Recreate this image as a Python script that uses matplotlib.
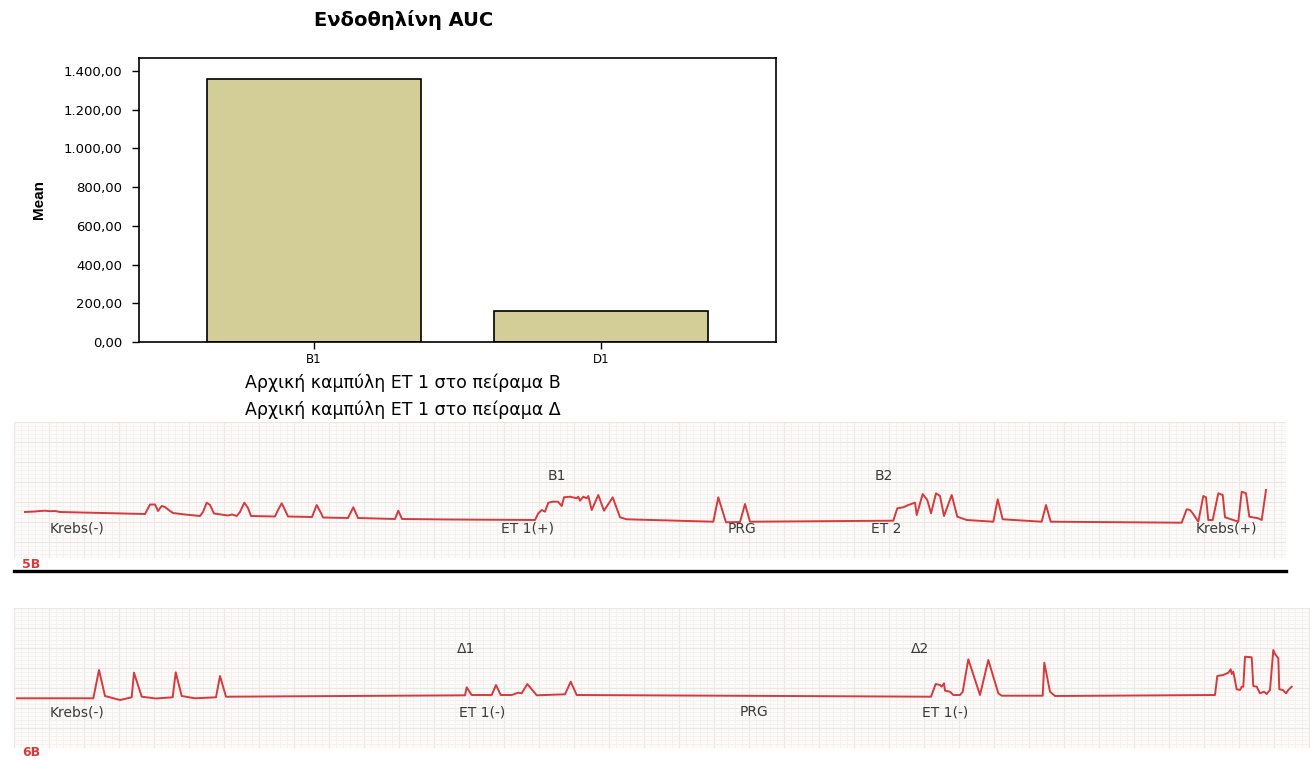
import numpy as np
import matplotlib
matplotlib.use("Agg")
import matplotlib.pyplot as plt
from matplotlib.ticker import FuncFormatter

W, H = 1314, 760

# bar chart data
groups = ['B1', 'D1']
auc_mean = [1358, 162]
yticks = [0, 200, 400, 600, 800, 1000, 1200, 1400]

# recorder trace 5B (x along strip, y in strip pixels, downward)
trace5_x = [25, 35, 40, 45, 50, 55, 60, 145,
            150, 155, 158, 161.7, 165, 170, 173, 185, 200,
            203, 206.7, 210, 214, 228, 232, 236.7, 240, 244.3, 248, 251, 275,
            278, 281.7, 285, 288, 312, 316.7, 321, 323, 348, 353.3, 358, 395, 398.3, 402, 450, 535,
            538.3, 541.7, 545, 548.3, 553, 558, 561.7, 564, 570, 576.7, 578.3, 580, 583.3, 586.7,
            588.3, 591.7, 598.3, 604, 612.7, 620, 626.7, 713.3,
            718.3, 726, 740, 745, 750, 893.3,
            897.3, 903.3, 908.3, 915, 916.7, 922.7, 927.3, 931, 936, 940, 944, 951.7, 957.3,
            966.7, 993.3, 997.7, 1002.7, 1041.7, 1046, 1050.7, 1181.7,
            1186.7, 1190, 1192.7, 1198.3, 1203.3, 1206, 1208.3, 1212.7, 1218.3, 1222.7, 1225,
            1233.3, 1238.3, 1241.7, 1246, 1249.3, 1258.3, 1261.7, 1266]
trace5_y = [512, 511.5, 511, 510.7, 511.2, 511, 512, 514,
            504.5, 504.5, 511, 506, 507, 511, 513, 514.5, 516,
            512, 502.7, 505, 513.5, 515.5, 514.5, 516, 512, 502.7, 508, 516, 516.5,
            510, 503.3, 510, 516.5, 517, 505, 513, 517.5, 518, 507.3, 518, 519, 510.7, 519, 519.5, 520,
            513.3, 510, 511.7, 502.7, 501.7, 501.7, 506, 497.3, 496.7, 498.3, 496.7, 500.7, 496.7, 498.3,
            496, 510, 495, 510.7, 497.3, 517.3, 519.3, 521.7,
            497.3, 522.3, 522, 504, 521.7, 520.7,
            508.3, 507.3, 505, 502.7, 515, 494, 500, 513.3, 493.3, 496, 516, 495, 516.7,
            520, 521.7, 499.3, 519.3, 521.7, 505, 521.7, 522.7,
            509.3, 510, 513.3, 521.7, 496, 497.3, 520, 520, 493.3, 495, 517.3,
            520, 521.7, 491.7, 493.3, 516.7, 518.3, 520, 490]

# recorder trace 6B
trace6_x = [17, 93.3, 99, 105, 120, 131.7, 134, 141.7, 156, 172.7, 175.7, 181.7, 195, 216, 220, 226,
            465, 466.7, 471.7, 491.7, 496, 500.7, 511.7, 518.3, 521.7, 527.3, 536.7, 565, 570.7, 576.7,
            931, 935.7, 940, 941.7, 944, 945, 950, 953.3, 960, 962.7, 968.3, 980, 988.3, 998.3,
            1001.7, 1042.7, 1044.3, 1050, 1055, 1215,
            1217.3, 1223.3, 1228.3, 1230.7, 1231.7, 1233.3, 1236.7, 1240, 1241.7, 1243.3, 1245,
            1251.7, 1253.3, 1256.7, 1260, 1264, 1266.7, 1270, 1273.3, 1275, 1278.3, 1279.3,
            1282.7, 1286, 1288.3, 1291.7]
trace6_y = [698.3, 698.3, 670, 696, 700, 697.3, 672.7, 696.7, 698.5, 697.3, 672.3, 696, 698.3, 697.3, 676, 696.7,
            695.3, 687.3, 695, 695, 685, 695, 695, 692.7, 693.3, 684, 695.3, 694.3, 681.7, 695,
            696.7, 684, 685, 686.7, 683.3, 690.7, 691.7, 695, 695, 691.7, 659.3, 695, 660, 693.3,
            695.7, 695.7, 662.7, 691.7, 696, 695,
            676, 675, 672.7, 669.3, 674, 671.7, 689.3, 690, 686.7, 686.7, 656.7,
            657.3, 686, 686.7, 693.3, 691.7, 694, 690, 650, 654, 658.3, 689.3,
            690, 693.3, 690, 686.7]

# event labels (text, x, y)
labels5 = [('B1', 557, 476), ('B2', 884, 476), ('Krebs(-)', 77, 529), ('ET 1(+)', 528, 529),
           ('PRG', 742, 529), ('ET 2', 886, 529), ('Krebs(+)', 1226, 529)]
labels6 = [('Δ1', 466, 649), ('Δ2', 920, 649), ('Krebs(-)', 77, 712), ('ET 1(-)', 482, 712),
           ('PRG', 754, 712), ('ET 1(-)', 945, 712)]


def px_rect(x0, y0, x1, y1):
    return [x0 / W, 1 - y1 / H, (x1 - x0) / W, (y1 - y0) / H]


fig = plt.figure(figsize=(W / 100, H / 100), dpi=100)
fig.patch.set_facecolor('white')

# ---- bar chart
ax = fig.add_axes(px_rect(139, 58, 776, 342))
ax.bar(range(len(groups)), auc_mean, width=0.746, color='#d3ce97',
       edgecolor='black', linewidth=1.2, zorder=2)
ax.set_xlim(-0.61, 1.61)
ax.set_ylim(0, 1467)
ax.set_yticks(yticks)
ax.yaxis.set_major_formatter(FuncFormatter(
    lambda v, p: f'{v:,.2f}'.replace(',', 'X').replace('.', ',').replace('X', '.')))
ax.set_xticks(range(len(groups)))
ax.set_xticklabels(groups, fontsize=8.5)
ax.tick_params(axis='y', length=5, width=1, pad=7, labelsize=9.5)
ax.tick_params(axis='x', length=5, width=1, pad=3)
for s in ax.spines.values():
    s.set_linewidth(1.2)
ax.set_ylabel('Mean', fontsize=11, fontweight='bold',
              family=['Liberation Sans Narrow', 'Liberation Sans', 'DejaVu Sans'], labelpad=13)

fig.text(404 / W, 1 - 20 / H, 'Ενδοθηλίνη AUC', fontsize=14, fontweight='bold',
         ha='center', va='center')
fig.text(403 / W, 1 - 383 / H, 'Αρχική καμπύλη ΕΤ 1 στο πείραμα Β', fontsize=12.5,
         ha='center', va='center')
fig.text(403 / W, 1 - 410 / H, 'Αρχική καμπύλη ΕΤ 1 στο πείραμα Δ', fontsize=12.5,
         ha='center', va='center')


# ---- recorder strips
def strip(x0, y0, x1, y1, tx, ty, labels):
    a = fig.add_axes(px_rect(x0, y0, x1, y1))
    a.set_xlim(x0, x1)
    a.set_ylim(y1, y0)
    a.set_facecolor('#fcfbf9')
    a.set_xticks(np.arange(x0, x1, 35))
    a.set_xticks(np.arange(x0, x1, 7), minor=True)
    a.set_yticks(np.arange(y0, y1, 20))
    a.set_yticks(np.arange(y0, y1, 4), minor=True)
    a.grid(which='minor', color='#f4f0ee', linewidth=0.6)
    a.grid(which='major', color='#ece6e4', linewidth=0.8)
    a.tick_params(which='both', length=0, labelbottom=False, labelleft=False)
    for s in a.spines.values():
        s.set_visible(False)
    a.plot(tx, ty, color='#d63a3c', linewidth=1.4, zorder=3)
    for t, x, y in labels:
        a.text(x, y, t, fontsize=10, color='#3a3a3a', ha='center', va='center', zorder=4)
    return a


strip(14, 422, 1286, 558, trace5_x, trace5_y, labels5)
strip(14, 608, 1310, 748, trace6_x, trace6_y, labels6)

fig.text(22 / W, 1 - 565 / H, '5B', fontsize=9, fontweight='bold', color='#d63a3c',
         ha='left', va='center')
fig.text(22 / W, 1 - 752 / H, '6B', fontsize=9, fontweight='bold', color='#d63a3c',
         ha='left', va='center')
fig.add_artist(plt.Line2D([14 / W, 1286 / W], [1 - 571 / H, 1 - 571 / H],
                          color='black', linewidth=2.4))

fig.savefig('out.png', dpi=100)
